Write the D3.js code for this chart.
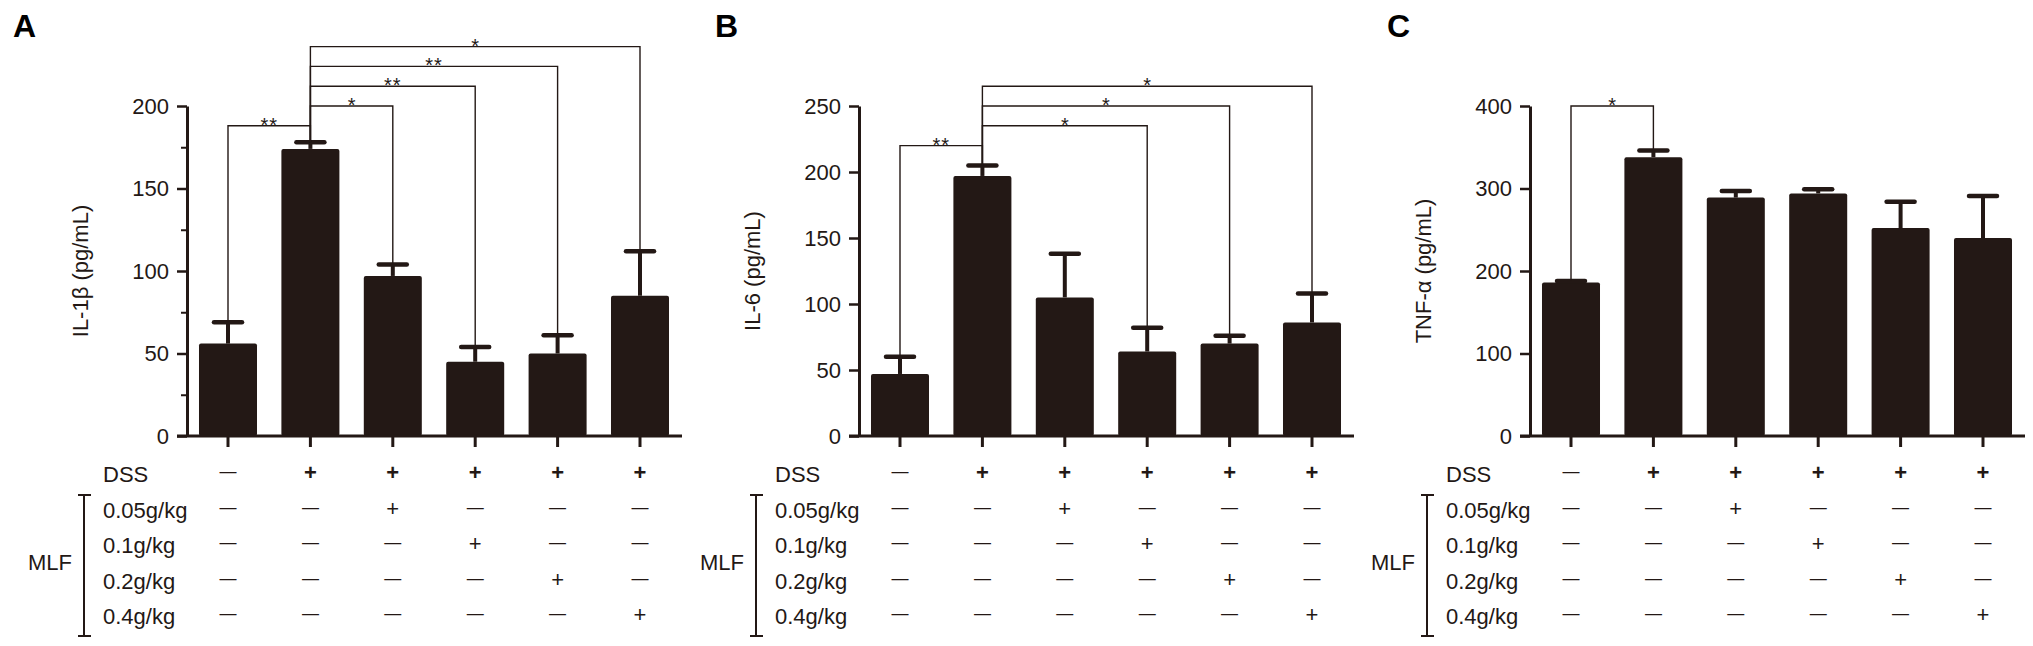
<!DOCTYPE html>
<html>
<head>
<meta charset="utf-8">
<script src="https://cdn.jsdelivr.net/npm/d3@7"></script>
<style>
  body { margin: 0; background: #fff; }
  svg { display: block; font-family: "Liberation Sans", Arial, sans-serif; }
</style>
</head>
<body>
<div id="chart"></div>
<script>
// groups (columns of the treatment table)
const groups = ["Control", "DSS", "DSS+0.05", "DSS+0.1", "DSS+0.2", "DSS+0.4"];

// treatment table
const dssRow = ["—", "+", "+", "+", "+", "+"];
const mlfLabels = ["0.05g/kg", "0.1g/kg", "0.2g/kg", "0.4g/kg"];
const mlfRows = [
    ["—", "—", "+", "—", "—", "—"],
    ["—", "—", "—", "+", "—", "—"],
    ["—", "—", "—", "—", "+", "—"],
    ["—", "—", "—", "—", "—", "+"]
];

// IL-1β
const il1bMean = [56, 174, 97, 45, 50, 85];
const il1bSem = [13, 4, 7, 9, 11, 27];
const il1bTicks = [0, 50, 100, 150, 200];
const il1bMinor = [25, 75, 125, 175];
const il1bSig = [
    { from: 0, to: 1, level: 188, label: "**" },
    { from: 1, to: 2, level: 200, label: "*" },
    { from: 1, to: 3, level: 212, label: "**" },
    { from: 1, to: 4, level: 224, label: "**" },
    { from: 1, to: 5, level: 236, label: "*" }
];

// IL-6
const il6Mean = [47, 197, 105, 64, 70, 86];
const il6Sem = [13, 8, 33, 18, 6, 22];
const il6Ticks = [0, 50, 100, 150, 200, 250];
const il6Sig = [
    { from: 0, to: 1, level: 220, label: "**" },
    { from: 1, to: 3, level: 235, label: "*" },
    { from: 1, to: 4, level: 250, label: "*" },
    { from: 1, to: 5, level: 265, label: "*" }
];

// TNF-α
const tnfMean = [186, 338, 289, 294, 252, 240];
const tnfSem = [2, 8, 8, 5, 32, 51];
const tnfTicks = [0, 100, 200, 300, 400];
const tnfSig = [
    { from: 0, to: 1, level: 400, label: "*" }
];

const ink = "#231815";
const width = 2033, height = 646;
const plotTop = 106, plotBottom = 436;
const step = 82.4;

const panels = [
    { letter: "A", letterX: 13, axisX: 187, title: "IL-1β (pg/mL)", mean: il1bMean, sem: il1bSem, ticks: il1bTicks, minor: il1bMinor, sig: il1bSig },
    { letter: "B", letterX: 715, axisX: 859, title: "IL-6 (pg/mL)", mean: il6Mean, sem: il6Sem, ticks: il6Ticks, minor: [], sig: il6Sig },
    { letter: "C", letterX: 1387, axisX: 1530, title: "TNF-α (pg/mL)", mean: tnfMean, sem: tnfSem, ticks: tnfTicks, minor: [], sig: tnfSig }
];

const svg = d3.select("#chart").append("svg")
    .attr("width", width)
    .attr("height", height);

panels.forEach(p => {
    const g = svg.append("g");

    const x = d3.scaleBand()
        .domain(groups)
        .range([p.axisX + 41 - step / 2, p.axisX + 41 + step * 5.5])
        .paddingInner(0.296)
        .paddingOuter(0.148);
    const cx = d => x(d) + x.bandwidth() / 2;

    const y = d3.scaleLinear()
        .domain([0, d3.max(p.ticks)])
        .range([plotBottom, plotTop]);

    // panel letter
    g.append("text")
        .attr("x", p.letterX)
        .attr("y", 37)
        .style("font-size", "32px")
        .style("font-weight", "bold")
        .style("fill", "#000")
        .text(p.letter);

    // bars
    g.selectAll("rect.bar")
        .data(groups)
        .enter()
        .append("rect")
        .attr("class", "bar")
        .attr("x", d => x(d))
        .attr("y", (d, i) => y(p.mean[i]))
        .attr("width", x.bandwidth())
        .attr("height", (d, i) => y(0) - y(p.mean[i]))
        .attr("rx", 2)
        .style("fill", ink);

    // error bars
    const err = g.selectAll("g.err")
        .data(groups)
        .enter()
        .append("g")
        .attr("class", "err");
    err.append("line")
        .attr("x1", d => cx(d))
        .attr("x2", d => cx(d))
        .attr("y1", (d, i) => y(p.mean[i]))
        .attr("y2", (d, i) => y(p.mean[i] + p.sem[i]))
        .style("stroke", ink)
        .style("stroke-width", 4);
    err.append("line")
        .attr("x1", d => cx(d) - 14)
        .attr("x2", d => cx(d) + 14)
        .attr("y1", (d, i) => y(p.mean[i] + p.sem[i]))
        .attr("y2", (d, i) => y(p.mean[i] + p.sem[i]))
        .style("stroke", ink)
        .style("stroke-width", 4.5)
        .style("stroke-linecap", "round");

    // y axis
    const yAxis = g.append("g")
        .attr("transform", `translate(${p.axisX},0)`)
        .call(d3.axisLeft(y).tickValues(p.ticks).tickSize(10).tickSizeOuter(0).tickPadding(8));
    yAxis.select(".domain").style("stroke", ink).style("stroke-width", 3);
    yAxis.selectAll(".tick line").style("stroke", ink).style("stroke-width", 2.5);
    yAxis.selectAll(".tick text")
        .style("font-size", "22px")
        .style("font-family", "'Liberation Sans', Arial, sans-serif")
        .style("fill", ink);

    if (p.minor.length) {
        const yMinor = g.append("g")
            .attr("transform", `translate(${p.axisX},0)`)
            .call(d3.axisLeft(y).tickValues(p.minor).tickSize(6).tickSizeOuter(0).tickFormat(""));
        yMinor.select(".domain").remove();
        yMinor.selectAll(".tick line").style("stroke", ink).style("stroke-width", 2);
    }

    // x axis baseline + ticks
    g.append("line")
        .attr("x1", p.axisX - 10)
        .attr("x2", p.axisX + 495)
        .attr("y1", y(0))
        .attr("y2", y(0))
        .style("stroke", ink)
        .style("stroke-width", 3);
    const xAxis = g.append("g")
        .attr("transform", `translate(0,${y(0)})`)
        .call(d3.axisBottom(x).tickSize(11).tickSizeOuter(0).tickFormat(""));
    xAxis.select(".domain").remove();
    xAxis.selectAll(".tick line").style("stroke", ink).style("stroke-width", 3);

    // y title
    g.append("text")
        .attr("transform", `translate(${p.axisX - 107},${(plotTop + plotBottom) / 2}) rotate(-90)`)
        .attr("text-anchor", "middle")
        .attr("dominant-baseline", "central")
        .style("font-size", "22px")
        .style("fill", ink)
        .text(p.title);

    // significance brackets
    p.sig.forEach(s => {
        const x1 = cx(groups[s.from]), x2 = cx(groups[s.to]);
        const yl = y(s.level);
        const y1 = y(p.mean[s.from] + p.sem[s.from]);
        const y2 = y(p.mean[s.to] + p.sem[s.to]);
        g.append("path")
            .attr("d", `M${x1},${y1}V${yl}H${x2}V${y2}`)
            .style("fill", "none")
            .style("stroke", ink)
            .style("stroke-width", 1.4);
        g.append("text")
            .attr("x", (x1 + x2) / 2)
            .attr("y", yl + 6)
            .attr("text-anchor", "middle")
            .style("font-size", "20px")
            .style("letter-spacing", s.label.length > 1 ? "1px" : null)
            .style("fill", ink)
            .text(s.label);
    });

    // treatment table
    const rowLabels = ["DSS"].concat(mlfLabels);
    const rowSymbols = [dssRow].concat(mlfRows);
    const rowY = d3.scalePoint().domain(rowLabels).range([482, 624]);

    g.selectAll("text.rowlabel")
        .data(rowLabels)
        .enter()
        .append("text")
        .attr("class", "rowlabel")
        .attr("x", p.axisX - 84)
        .attr("y", d => rowY(d))
        .style("font-size", "22px")
        .style("fill", ink)
        .text(d => d);

    rowSymbols.forEach((row, r) => {
        const base = rowY(rowLabels[r]);
        g.selectAll(null)
            .data(row)
            .enter()
            .append("text")
            .attr("x", (d, i) => cx(groups[i]))
            .attr("y", d => d === "+" ? base - 2 : base - 5)
            .attr("text-anchor", "middle")
            .style("font-size", d => d === "+" ? "22px" : "17px")
            .style("font-weight", d => (d === "+" && r === 0) ? "bold" : "normal")
            .style("fill", ink)
            .text(d => d);
    });

    // MLF bracket
    const brX = p.axisX - 103;
    g.append("path")
        .attr("d", `M${brX - 6},495H${brX + 7}M${brX},495V636M${brX - 6},636H${brX + 7}`)
        .style("fill", "none")
        .style("stroke", ink)
        .style("stroke-width", 2);
    g.append("text")
        .attr("x", p.axisX - 159)
        .attr("y", 570)
        .style("font-size", "22px")
        .style("fill", ink)
        .text("MLF");
});
</script>
</body>
</html>
